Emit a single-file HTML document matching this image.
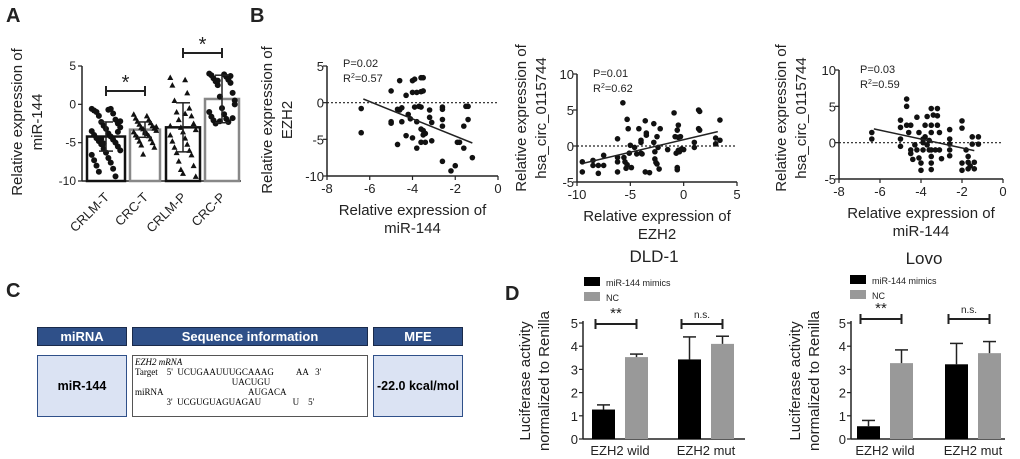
<!DOCTYPE html>
<html><head><meta charset="utf-8"><style>
body{margin:0;background:#fff;width:1020px;height:459px;overflow:hidden;font-family:"Liberation Sans",Arial,sans-serif}
.hd{position:absolute;background:#2f5089;color:#fff;font-weight:bold;font-size:13px;text-align:center;border:1px solid #1a2a4a;box-sizing:border-box;line-height:17px}
.bx{position:absolute;background:#dbe3f3;border:1px solid #2f5089;box-sizing:border-box;font-weight:bold;font-size:12.5px;display:flex;align-items:center;justify-content:center}
</style></head><body>
<svg id="fig" width="1020" height="459" style="position:absolute;left:0;top:0" font-family="Liberation Sans, Arial, sans-serif"></svg>
<div>
<div class="hd" style="left:37px;top:327px;width:90px;height:19px">miRNA</div>
<div class="hd" style="left:132px;top:327px;width:236px;height:19px">Sequence information</div>
<div class="hd" style="left:373px;top:327px;width:90px;height:19px">MFE</div>
<div class="bx" style="left:37px;top:355px;width:90px;height:62px">miR-144</div>
<div style="position:absolute;left:132px;top:355px;width:236px;height:62px;border:1px solid #555;box-sizing:border-box;font-family:'Liberation Serif',serif;font-size:9px;line-height:10px;padding:1px 2px;white-space:pre"><i>EZH2 mRNA</i>
Target    5'  UCUGAAUUUGCAAAG          AA   3'
                                           UACUGU
miRNA                                      AUGACA
              3'  UCGUGUAGUAGAU              U    5'</div>
<div class="bx" style="left:373px;top:355px;width:90px;height:62px">-22.0 kcal/mol</div>
</div>
<script>
// ---- Panel A data
const aCats=["CRLM-T","CRC-T","CRLM-P","CRC-P"];
const aMeans=[-4.2,-3.3,-3.0,0.7];
const aSD=[1.9,1.0,3.2,3.1];
const aPts0=[-0.6,-0.7,-0.8,-0.6,-1,-1.2,-1.5,-2,-2.3,-2.5,-2.8,-3,-3.2,-3.5,-3.8,-4,-4.2,-4.4,-4.6,-4.8,-5,-5.2,-5.5,-5.8,-6,-6.3,-6.6,-7,-7.3,-7.6,-8,-8.4,-8.8,-9.4,-4.5,-3.6,-5.1,-2.2];
const aPts1=[-1.3,-1.5,-1.8,-2,-2.2,-2.4,-2.6,-2.8,-3,-3.1,-3.2,-3.4,-3.5,-3.6,-3.8,-4,-4.1,-4.3,-4.5,-4.8,-5,-5.3,-5.6,-6.5,-2.9,-3.7];
const aPts2=[3.5,3.2,2.5,1.5,0.5,-0.5,-1,-1.5,-2,-2.5,-3,-3.3,-3.6,-4,-4.4,-4.8,-5.2,-5.6,-6,-6.3,-6.6,-7.4,-8,-8.5,-9.4,-9,-2.8,-1.2];
const aPts3=[4,3.9,3.8,3.6,3.4,3.2,3,2.8,2.5,1.5,1,0.5,-0.5,-1,-1.3,-1.6,-1.9,-2.1,-2.3,-2.5,3.7,3.1,-1.8,-2.2,0];
const aPts=[aPts0,aPts1,aPts2,aPts3];
// ---- Panel B data
const b1x=[-6.4,-6.4,-5,-5,-5,-4.6,-4.7,-4.5,-4.6,-4.5,-4.7,-4.3,-4.2,-4.3,-4.1,-4,-4,-3.9,-4,-3.9,-3.8,-3.8,-3.8,-3.6,-3.5,-3.6,-3.5,-3.6,-3.7,-3.6,-3.5,-3.4,-3.5,-3.6,-3.4,-3.2,-3.2,-3.1,-3.1,-2.6,-2.6,-2.6,-2.6,-2.6,-2.2,-2,-1.9,-1.8,-1.6,-1.5,-1.4,-1.4,-1.6,-1.2];
const b1y=[-0.8,-4.1,1.6,-2.6,-2.8,3,-0.9,-0.7,-1,-2.6,-5.7,1,-1.6,-4.5,-2.2,-4.8,3,3.2,1.4,-0.6,1.4,-2.6,-6.2,3.4,3.4,1.5,1.6,-0.6,-0.5,-3.6,-3.8,-4.2,-4.4,-5.4,-5.4,-1,-2,-2.7,-5.2,-0.6,-0.9,-2.3,-3.2,-8,-9.3,-8.6,-5.4,-5.4,-3.2,-0.5,-0.5,-2.3,-6.2,-7.5];
const b1fit=[[-6.3,0.5],[-1.2,-5.5]];
const b2x=[-9.5,-9.5,-8.5,-8.5,-8,-8,-7.5,-7.5,-6.2,-6.2,-6.2,-6.2,-5.7,-5.6,-5.5,-5.4,-5.3,-5.3,-5.2,-5.1,-5,-4.9,-4.6,-4.4,-4.2,-4,-4,-4,-3.9,-3.6,-3.5,-3.5,-3.6,-3.2,-2.8,-2.8,-2.7,-2.7,-2.6,-2.5,-2.5,-2.4,-2.3,-2.2,-1.5,-0.9,-0.8,-0.7,-0.6,-0.6,-0.6,-0.5,-0.5,-0.5,-0.4,-0.3,-0.2,0,1,1,1.4,1.5,1.4,1.5,3,3,3.4,3.4];
const b2y=[-2.2,-3.6,-2,-2.7,-3.8,-2.7,-1.3,-2.7,1,-1.6,-2.2,-3.6,6,-1.6,-2.2,-3.1,-2.6,3.7,2.4,-1,0.1,-3,-0.2,-1.1,2.4,-1,0.5,0.8,-1.1,3.5,1.5,1.8,-3.6,-3.7,3.1,0.5,-0.8,-1.8,-2.3,1.3,-2.5,-0.2,-3.2,2.4,-0.5,4.6,1.3,-1,2.2,-3,-3.3,1.2,2.9,-0.6,-0.8,1.3,-0.4,-0.5,0.5,-0.2,5,4.8,2.4,2.2,1.1,0.3,3.6,0.8];
const b2fit=[[-9.4,-2.4],[3.2,2]];
const b3x=[-6.4,-6.4,-5,-5,-5,-5,-4.7,-4.7,-4.7,-4.6,-4.5,-4.5,-4.5,-4.4,-4.3,-4.2,-4.2,-4.1,-4.1,-4,-4,-3.9,-3.9,-3.9,-3.8,-3.8,-3.7,-3.7,-3.6,-3.6,-3.5,-3.5,-3.5,-3.5,-3.5,-3.5,-3.5,-3.4,-3.3,-3.2,-3.2,-3.2,-3.1,-3.1,-3,-2.6,-2.6,-2.6,-2.6,-2.6,-2,-2,-2,-2,-1.8,-1.7,-1.7,-1.7,-1.6,-1.5,-1.5,-1.4,-1.4,-1.2,-1.2];
const b3y=[1.4,0.5,3.1,2.1,0.5,-0.5,6,5,2.4,1.4,2.4,-1,-1.5,-2.3,-0.3,-1,3.5,-2.1,1.4,-3.8,-2.8,0,-1,0.5,0.8,2.4,-0.3,3.6,0.3,-1,4.7,2.4,1.4,-1,-1.9,-2.8,-3.7,3.8,-1,4.7,3.7,2.4,1.4,-1,-2.2,1.8,0.5,-0.2,-1,-1.8,3,2,-2.8,-3.8,-1,-1.9,-2.7,-3.6,-3.2,0.8,-0.2,-2.7,-3.6,0.8,-0.2];
const b3fit=[[-6.3,1.9],[-1.4,-1.1]];
// ---- Panel D data
const dGroups=["EZH2 wild","EZH2 mut"];
const dldMimic=[1.27,3.43], dldMimicErr=[0.2,0.97];
const dldNC=[3.53,4.1], dldNCErr=[0.13,0.33];
const lovoMimic=[0.55,3.22], lovoMimicErr=[0.25,0.9];
const lovoNC=[3.27,3.7], lovoNCErr=[0.57,0.5];
const dTicks=[0,1,2,3,4,5];

const NS="http://www.w3.org/2000/svg", svg=document.getElementById('fig');
function mk(tag,at,parent){const e=document.createElementNS(NS,tag);for(const k in at)e.setAttribute(k,at[k]);(parent||svg).appendChild(e);return e;}
function txt(x,y,s,size,opt){opt=opt||{};const e=mk('text',{x:x,y:y,'font-size':size,'text-anchor':opt.anchor||'middle',fill:opt.fill||'#222'});if(opt.rot!==undefined)e.setAttribute('transform','rotate('+opt.rot+' '+x+' '+y+')');if(opt.bold)e.setAttribute('font-weight','bold');e.textContent=s;return e;}
function lin(x1,y1,x2,y2,w,extra){const e=mk('line',{x1:x1,y1:y1,x2:x2,y2:y2,stroke:'#222','stroke-width':w||1.5});if(extra)for(const k in extra)e.setAttribute(k,extra[k]);return e;}
function scale(d0,d1,r0,r1){return v=>r0+(v-d0)*(r1-r0)/(d1-d0);}

[["A",6,22],["B",250,22],["C",6,297],["D",505,300]].forEach(p=>{const t=txt(p[1],p[2],p[0],20,{anchor:'start',bold:true});

});

// ===== Panel A
(function(){
const y=scale(-10,5,181,66); const x0=82,x1=241;
const cx=[106,145,183,222], bw=[38,30,34,34];
lin(x0,66,x0,181,1.5); lin(x0,181,x1,181,1.5);
[5,0,-5,-10].forEach(v=>{lin(x0-4,y(v),x0,y(v),1.2);const t=txt(x0-6,y(v)+4,String(v),12,{anchor:'end'});

});
const yl=txt(22,122,"Relative expression of",15,{rot:-90});


txt(42,122,"miR-144",15,{rot:-90});
aCats.forEach((c,i)=>{
 const cl=i%2===0?'#111':'#888';
 const r=mk('rect',{x:cx[i]-bw[i]/2,y:y(Math.max(aMeans[i],-10)),width:bw[i],height:y(-10)-y(aMeans[i]),fill:'#fff',stroke:cl,'stroke-width':2.5});
 
 
 aPts[i].forEach((v,j)=>{
  const px=cx[i]+((j*7)%13-6)*bw[i]/16, py=y(v);
  if(i===1||i===2){const p=mk('path',{d:`M${px},${py-3}L${px+3},${py+2.5}L${px-3},${py+2.5}Z`,fill:'#111'});}
  else{const p=mk('circle',{cx:px,cy:py,r:3,fill:'#111'});}
 });
 const top=y(aMeans[i]+aSD[i]), bot=y(aMeans[i]-aSD[i]);
 lin(cx[i],top,cx[i],Math.min(bot,181),1.5); lin(cx[i]-7,top,cx[i]+7,top,1.5); if(bot<181)lin(cx[i]-7,bot,cx[i]+7,bot,1.5);
 const t=txt(cx[i]+4,198,c,13,{anchor:'end',rot:-45});
 
 
});
[[0,1,91],[2,3,53]].forEach(s=>{lin(cx[s[0]],s[2],cx[s[1]],s[2],2);lin(cx[s[0]],s[2]-5,cx[s[0]],s[2]+5,2);lin(cx[s[1]],s[2]-5,cx[s[1]],s[2]+5,2);
const t=txt((cx[s[0]]+cx[s[1]])/2,s[2]-2,"*",20);});
})();

// ===== Panel B scatter
function scatter(o){
 const x=scale(o.xd[0],o.xd[1],o.ax0,o.ax1), y=scale(o.yd[0],o.yd[1],o.ay0,o.ay1);
 lin(o.ax0,o.ay1,o.ax0,o.ay0,1.5); lin(o.ax0,o.ay0,o.ax1,o.ay0,1.5);
 lin(o.ax0,y(0),o.ax1,y(0),1.2,{'stroke-dasharray':'2,2'});
 o.yt.forEach(v=>{lin(o.ax0-4,y(v),o.ax0,y(v),1.2);const t=txt(o.ax0-3,y(v)+5,String(v),13,{anchor:'end'});});
 o.xt.forEach(v=>{lin(x(v),o.ay0,x(v),o.ay0+4,1.2);const t=txt(x(v),o.ay0+17,String(v),13);});
 o.px.forEach((v,i)=>{const c=mk('circle',{cx:x(v),cy:y(o.py[i]),r:2.8,fill:'#111'});
 
 });
 const f=lin(x(o.fit[0][0]),y(o.fit[0][1]),x(o.fit[1][0]),y(o.fit[1][1]),1.5);
 
 
 txt(o.tx,o.ty,o.p,11,{anchor:'start'});
 const r=txt(o.tx,o.ty+15,"",11,{anchor:'start'});r.innerHTML='R<tspan dy="-4" font-size="7">2</tspan><tspan dy="4">='+o.r2+'</tspan>';
 const xl=txt((o.ax0+o.ax1)/2,o.ay0+39,"Relative expression of",15);
 txt((o.ax0+o.ax1)/2,o.ay0+57,o.xlab,15);
 const yl=txt(o.ylx,o.yly,"Relative expression of",15,{rot:-90});
 txt(o.ylx+20,o.yly,o.ylab,15,{rot:-90});
}
scatter({name:'b1',xd:[-8,0],yd:[-10,5],ax0:327,ax1:498,ay0:176,ay1:66,xt:[-8,-6,-4,-2,0],yt:[5,0,-5,-10],px:b1x,py:b1y,fit:b1fit,tx:343,ty:67,p:"P=0.02",r2:"0.57",xlab:"miR-144",ylab:"EZH2",ylx:272,yly:120});
scatter({name:'b2',xd:[-10,5],yd:[-5,10],ax0:577,ax1:737,ay0:182,ay1:74,xt:[-10,-5,0,5],yt:[10,5,0,-5],px:b2x,py:b2y,fit:b2fit,tx:593,ty:77,p:"P=0.01",r2:"0.62",xlab:"EZH2",ylab:"hsa_circ_0115744",ylx:526,yly:118});
scatter({name:'b3',xd:[-8,0],yd:[-5,10],ax0:839,ax1:1003,ay0:179,ay1:70,xt:[-8,-6,-4,-2,0],yt:[10,5,0,-5],px:b3x,py:b3y,fit:b3fit,tx:860,ty:73,p:"P=0.03",r2:"0.59",xlab:"miR-144",ylab:"hsa_circ_0115744",ylx:786,yly:118});

// ===== Panel D
function lucChart(o){
 const y=scale(0,5,439,323);
 lin(o.ax0,321,o.ax0,439,1.5); lin(o.ax0,439,o.ax1,439,1.5);
 dTicks.forEach(v=>{lin(o.ax0-4,y(v),o.ax0,y(v),1.2);const t=txt(o.ax0-5,y(v)+5,String(v),13,{anchor:'end'});});
 dGroups.forEach((g,i)=>{
  const bx=o.gx[i];
  [[o.m,o.me,'#000',bx],[o.n,o.ne,'#999',bx+o.off]].forEach(s=>{
   const v=s[0][i],e=s[1][i];
   const r=mk('rect',{x:s[3],y:y(v),width:23,height:439-y(v),fill:s[2]});
   
   
   lin(s[3]+11.5,y(v),s[3]+11.5,y(v+e),1.5);lin(s[3]+5,y(v+e),s[3]+18,y(v+e),1.5);
  });
  const t=txt(bx+(o.off+23)/2,455,g,13);
  const sy=o.sy, xa=bx+11.5, xb=bx+o.off+11.5;
  lin(xa-8,sy,xb,sy,2);lin(xa-8,sy-5,xa-8,sy+5,2);lin(xb,sy-5,xb,sy+5,2);
  txt((xa-8+xb)/2,sy-6,i===0?"**":"n.s.",i===0?15:10);
 });
 const ti=txt(o.tx,o.ty,o.title,17);
 const l1=mk('rect',{x:o.lx,y:o.ly,width:16,height:9,fill:'#000'});
 txt(o.lx+22,o.ly+9,"miR-144 mimics",9,{anchor:'start'});
 const l2=mk('rect',{x:o.lx,y:o.ly+15,width:16,height:9,fill:'#999'});
 txt(o.lx+22,o.ly+24,"NC",9,{anchor:'start'});
 const yl=txt(o.ylx,381,"Luciferase activity",15,{rot:-90});
 txt(o.ylx+19,381,"normalized to Renilla",15,{rot:-90});
}
lucChart({name:'dld1',ax0:583,ax1:745,gx:[592,678],off:33,m:dldMimic,me:dldMimicErr,n:dldNC,ne:dldNCErr,sy:324,tx:654,ty:262,title:"DLD-1",lx:584,ly:277,ylx:530});
lucChart({name:'lovo',ax0:851,ax1:1005,gx:[857,945],off:33,m:lovoMimic,me:lovoMimicErr,n:lovoNC,ne:lovoNCErr,sy:319,tx:924,ty:264,title:"Lovo",lx:850,ly:275,ylx:800});
</script>
</body></html>
